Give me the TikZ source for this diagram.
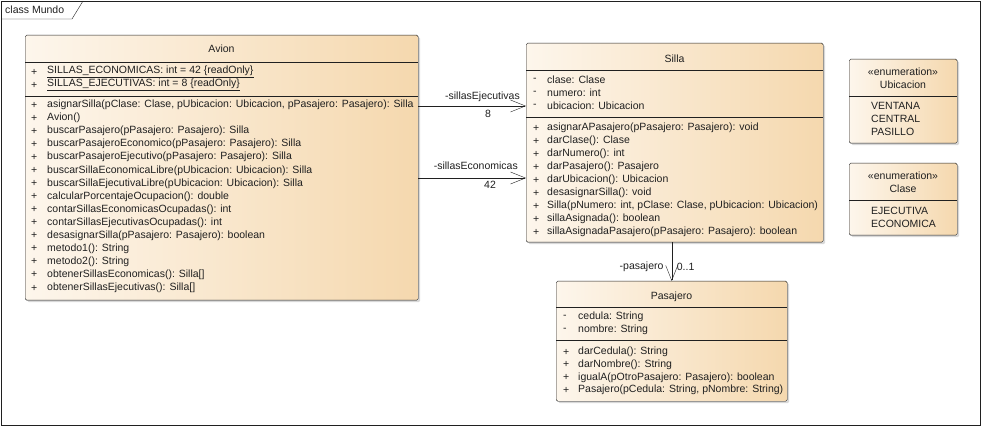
\documentclass[tikz,border=0pt]{standalone}
\usepackage{fontspec}
\setmainfont{Liberation Sans}
\usetikzlibrary{positioning,shadows,arrows.meta}
\definecolor{boxleft}{HTML}{FDF6EC}
\definecolor{boxright}{HTML}{F5D8AE}
\definecolor{inkgray}{HTML}{202020}

\begin{document}
\begin{tikzpicture}[x=1pt,y=-1pt,
    classbox/.style={rectangle, draw=inkgray, rounded corners=1.5pt, left color=boxleft, right color=boxright, drop shadow={shadow xshift=2pt, shadow yshift=-2pt, fill=black!30}, anchor=north west, inner sep=0pt},
    member/.style={anchor=west, inner sep=0pt, text=inkgray, font=\fontsize{10.5}{12}\selectfont},
    titletext/.style={inner sep=0pt, text=inkgray, font=\fontsize{10.5}{12}\selectfont},
    assoc/.style={-{Straight Barb[length=15pt, width=12pt]}, draw=inkgray},
    rolelabel/.style={inner sep=0pt, text=inkgray, font=\fontsize{10.5}{12}\selectfont},
    ]
    \useasboundingbox (0,0) rectangle (982,427);

    %Frame
    \draw[inkgray] (1,1) rectangle (980,425);
    \draw[inkgray] (1,19) -- (72,19) -- (83,1);
    \node[member] (frametitle) at (5,10) {class Mundo};

    %Boxes
    \node[classbox, minimum width=393pt, minimum height=265pt] (avion) at (25,35) {};
    \node[classbox, minimum width=297pt, minimum height=199pt] (silla) at (526,43) {};
    \node[classbox, minimum width=231pt, minimum height=120pt] (pasajero) at (556,281) {};
    \node[classbox, minimum width=108pt, minimum height=84pt] (ubicacion) at (849,59) {};
    \node[classbox, minimum width=108pt, minimum height=72pt] (clase) at (849,163) {};

    %Separators
    \draw[inkgray] ([yshift=-27pt]avion.north west) -- ([yshift=-27pt]avion.north east);
    \draw[inkgray] ([yshift=-61pt]avion.north west) -- ([yshift=-61pt]avion.north east);
    \draw[inkgray] ([yshift=-27pt]silla.north west) -- ([yshift=-27pt]silla.north east);
    \draw[inkgray] ([yshift=-74pt]silla.north west) -- ([yshift=-74pt]silla.north east);
    \draw[inkgray] ([yshift=-26pt]pasajero.north west) -- ([yshift=-26pt]pasajero.north east);
    \draw[inkgray] ([yshift=-59pt]pasajero.north west) -- ([yshift=-59pt]pasajero.north east);
    \draw[inkgray] ([yshift=-37pt]ubicacion.north west) -- ([yshift=-37pt]ubicacion.north east);
    \draw[inkgray] ([yshift=-37pt]clase.north west) -- ([yshift=-37pt]clase.north east);

    %Avion
    \node[titletext] (aviontitle) at (221.5,49) {Avion};
    \foreach \txt [count=\i from 0] in {SILLAS\_ECONOMICAS: int = 42 \{readOnly\}, SILLAS\_EJECUTIVAS: int = 8 \{readOnly\}} {
        \node[member] (avionvis\i) at (31,72+13*\i) {+};
        \node[member] (avionattr\i) at (47,72+13*\i) {\underline{\txt}};
    }
    \foreach \txt [count=\i from 0] in {{asignarSilla(pClase: Clase, pUbicacion: Ubicacion, pPasajero: Pasajero): Silla},
        Avion(), buscarPasajero(pPasajero: Pasajero): Silla, buscarPasajeroEconomico(pPasajero: Pasajero): Silla,
        buscarPasajeroEjecutivo(pPasajero: Pasajero): Silla, buscarSillaEconomicaLibre(pUbicacion: Ubicacion): Silla,
        buscarSillaEjecutivaLibre(pUbicacion: Ubicacion): Silla, calcularPorcentajeOcupacion(): double,
        contarSillasEconomicasOcupadas(): int, contarSillasEjecutivasOcupadas(): int,
        desasignarSilla(pPasajero: Pasajero): boolean, metodo1(): String, metodo2(): String,
        obtenerSillasEconomicas(): Silla[], obtenerSillasEjecutivas(): Silla[]} {
        \node[member] (avionopvis\i) at (31,105+13.07*\i) {+};
        \node[member] (avionop\i) at (47,105+13.07*\i) {\txt};
    }

    %Silla
    \node[titletext] (sillatitle) at (674.5,59) {Silla};
    \foreach \txt [count=\i from 0] in {clase: Clase, numero: int, ubicacion: Ubicacion} {
        \node[member] (sillavis\i) at (533,80+13*\i) {-};
        \node[member] (sillaattr\i) at (547,80+13*\i) {\txt};
    }
    \foreach \txt [count=\i from 0] in {asignarAPasajero(pPasajero: Pasajero): void, darClase(): Clase,
        darNumero(): int, darPasajero(): Pasajero, darUbicacion(): Ubicacion, desasignarSilla(): void,
        {Silla(pNumero: int, pClase: Clase, pUbicacion: Ubicacion)}, sillaAsignada(): boolean,
        sillaAsignadaPasajero(pPasajero: Pasajero): boolean} {
        \node[member] (sillaopvis\i) at (533,128+13*\i) {+};
        \node[member] (sillaop\i) at (547,128+13*\i) {\txt};
    }

    %Pasajero
    \node[titletext] (pasajerotitle) at (671.5,297) {Pasajero};
    \foreach \txt [count=\i from 0] in {cedula: String, nombre: String} {
        \node[member] (pasajerovis\i) at (563,317+13*\i) {-};
        \node[member] (pasajeroattr\i) at (578,317+13*\i) {\txt};
    }
    \foreach \txt [count=\i from 0] in {darCedula(): String, darNombre(): String,
        igualA(pOtroPasajero: Pasajero): boolean, {Pasajero(pCedula: String, pNombre: String)}} {
        \node[member] (pasajeroopvis\i) at (563,352+12.7*\i) {+};
        \node[member] (pasajeroop\i) at (578,352+12.7*\i) {\txt};
    }

    %Enumerations
    \node[titletext] (ubicacionstereo) at (903,72) {«enumeration»};
    \node[titletext] (ubicaciontitle) at (903,85) {Ubicacion};
    \foreach \txt [count=\i from 0] in {VENTANA, CENTRAL, PASILLO}
        \node[member] (ubicacionlit\i) at (871,106+13*\i) {\txt};
    \node[titletext] (clasestereo) at (903,176) {«enumeration»};
    \node[titletext] (clasetitle) at (903,189) {Clase};
    \foreach \txt [count=\i from 0] in {EJECUTIVA, ECONOMICA}
        \node[member] (claselit\i) at (871,211+13*\i) {\txt};

    %Lines
    \draw[assoc] ([yshift=-71pt]avion.north east) -- ([yshift=-63pt]silla.north west)
        node[rolelabel, at end, anchor=south east, xshift=-6pt, yshift=4pt] (ejecrole) {-sillasEjecutivas}
        node[rolelabel, at end, anchor=north, xshift=-38pt, yshift=-4pt] (ejecmult) {8};
    \draw[assoc] ([yshift=-143pt]avion.north east) -- ([yshift=-135pt]silla.north west)
        node[rolelabel, at end, anchor=south east, xshift=-8pt, yshift=8pt] (econrole) {-sillasEconomicas}
        node[rolelabel, at end, anchor=north, xshift=-36pt, yshift=-3pt] (econmult) {42};
    \draw[assoc] (silla.south -| pasajero.north) -- (pasajero.north)
        node[rolelabel, at end, anchor=east, xshift=-8pt, yshift=14pt] (pasrole) {-pasajero}
        node[rolelabel, at end, anchor=west, xshift=5pt, yshift=14pt] (pasmult) {0..1};
\end{tikzpicture}
\end{document}
